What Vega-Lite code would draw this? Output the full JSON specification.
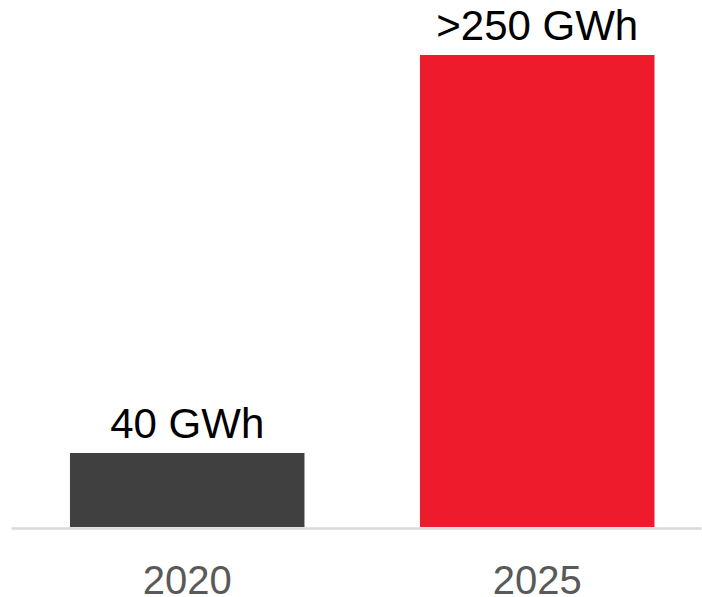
{
  "$schema": "https://vega.github.io/schema/vega-lite/v6.json",
  "width": 690,
  "height": 527,
  "autosize": {"type": "none"},
  "padding": {"left": 11, "top": 0, "right": 1, "bottom": 70},
  "background": "white",
  "config": {"view": {"stroke": null}, "font": "Liberation Sans"},
  "data": {
    "values": [
      {"year": "2020", "value": 40, "label": "40 GWh"},
      {"year": "2025", "value": 255, "label": ">250 GWh"}
    ]
  },
  "encoding": {
    "x": {
      "field": "year",
      "type": "nominal",
      "sort": null,
      "scale": {"paddingInner": 0.33, "paddingOuter": 0.1507, "align": 0.559},
      "axis": {
        "title": null,
        "labelAngle": 0,
        "ticks": false,
        "tickSize": 0,
        "domainColor": "#d9d9d9",
        "domainWidth": 2.5,
        "offset": 1,
        "labelFont": "Liberation Sans",
        "labelFontSize": 40,
        "labelColor": "#595959",
        "labelBaseline": "alphabetic",
        "labelPadding": 65
      }
    },
    "y": {
      "field": "value",
      "type": "quantitative",
      "scale": {"domain": [0, 284.7], "nice": false, "zero": true},
      "axis": null
    }
  },
  "layer": [
    {
      "mark": {"type": "bar"},
      "encoding": {
        "color": {
          "field": "year",
          "type": "nominal",
          "scale": {"domain": ["2020", "2025"], "range": ["#404040", "#EE1B2D"]},
          "legend": null
        }
      }
    },
    {
      "mark": {
        "type": "text",
        "baseline": "alphabetic",
        "align": "center",
        "dy": -15,
        "fontSize": 42,
        "font": "Liberation Sans",
        "color": "#000000"
      },
      "encoding": {"text": {"field": "label"}}
    }
  ]
}
